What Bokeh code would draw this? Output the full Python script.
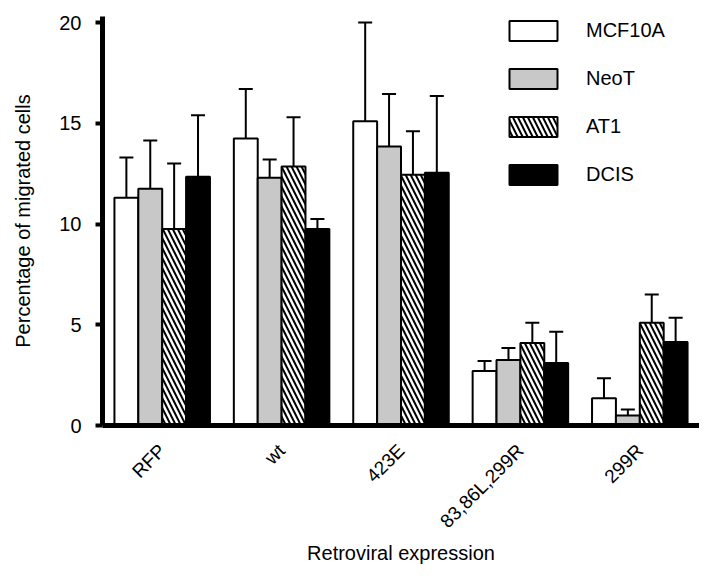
from math import pi

from bokeh.plotting import figure
from bokeh.models import (ColumnDataSource, FactorRange, Range1d, Legend, LegendItem,
                          FixedTicker)
from bokeh.transform import dodge
from bokeh.embed import file_html
from bokeh.resources import INLINE

# ---- data ----
categories = ["RFP", "wt", "423E", "83,86L,299R", "299R"]
series = ["MCF10A", "NeoT", "AT1", "DCIS"]

mcf10a = [11.3, 14.25, 15.1, 2.7, 1.35]
mcf10a_err = [2.0, 2.45, 4.9, 0.5, 1.0]
neot = [11.75, 12.3, 13.85, 3.25, 0.5]
neot_err = [2.4, 0.9, 2.6, 0.6, 0.3]
at1 = [9.75, 12.85, 12.45, 4.1, 5.1]
at1_err = [3.25, 2.45, 2.15, 1.0, 1.4]
dcis = [12.35, 9.75, 12.55, 3.1, 4.15]
dcis_err = [3.05, 0.5, 3.8, 1.55, 1.2]

y_ticks = [0, 5, 10, 15, 20]

values = [mcf10a, neot, at1, dcis]
errors = [mcf10a_err, neot_err, at1_err, dcis_err]

# ---- styles ----
offsets = [-0.3, -0.1, 0.1, 0.3]
fills = ["white", "#c8c8c8", "white", "black"]
hatches = [None, None, "left_diagonal_line", None]
FONT = "Liberation Sans"

p = figure(
    x_range=FactorRange(factors=categories, range_padding=0),
    y_range=Range1d(0, 20.3),
    width=699, height=567,
    min_border_left=102, min_border_right=0, min_border_top=16, min_border_bottom=142,
    output_backend="svg", toolbar_location=None,
)
p.xgrid.visible = False
p.ygrid.visible = False
p.outline_line_color = None
p.background_fill_color = "white"

items = []
for name, vals, errs, off, fc, hp in zip(series, values, errors, offsets, fills, hatches):
    src = ColumnDataSource(dict(
        cat=categories, val=vals, up=[v + e for v, e in zip(vals, errs)]))
    xs = dodge("cat", off, range=p.x_range)
    # error bars (upper only)
    p.segment(x0=xs, y0="val", x1=xs, y1="up", source=src,
              line_color="black", line_width=2)
    p.scatter(x=xs, y="up", source=src, marker="dash", size=14,
              line_color="black", line_width=2)
    kw = {}
    if hp:
        kw = dict(hatch_pattern=hp, hatch_color="black", hatch_weight=2, hatch_scale=10)
    r = p.vbar(x=xs, top="val", width=0.2, bottom=0, source=src,
               fill_color=fc, line_color="black", line_width=2, **kw)
    items.append(LegendItem(label=name, renderers=[r]))

legend = Legend(
    items=items, location=(401, 238),
    glyph_width=60, glyph_height=25, label_height=25,
    label_standoff=23, spacing=23, padding=0, margin=0,
    border_line_color=None, background_fill_alpha=0,
    label_text_font=FONT, label_text_font_size="20px", label_text_color="black",
)
p.add_layout(legend)

# y axis
ya = p.yaxis[0]
ya.ticker = FixedTicker(ticks=y_ticks, minor_ticks=[])
ya.axis_line_width = 5
ya.major_tick_line_width = 4
ya.major_tick_out = 7
ya.major_tick_in = 0
ya.minor_tick_out = 0
ya.minor_tick_in = 0
ya.major_label_standoff = 14
ya.major_label_text_font = FONT
ya.major_label_text_font_size = "20px"
ya.major_label_text_color = "black"
ya.axis_label = "Percentage of migrated cells"
ya.axis_label_text_font = FONT
ya.axis_label_text_font_size = "20px"
ya.axis_label_text_font_style = "normal"
ya.axis_label_text_color = "black"
ya.axis_label_standoff = 22

# x axis
xa = p.xaxis[0]
xa.axis_line_width = 5
xa.major_tick_out = 0
xa.major_tick_in = 0
xa.major_label_orientation = pi / 4
xa.major_label_standoff = 22
xa.major_label_text_font = FONT
xa.major_label_text_font_size = "19px"
xa.major_label_text_color = "black"
xa.axis_label = "Retroviral expression"
xa.axis_label_text_font = FONT
xa.axis_label_text_font_size = "20px"
xa.axis_label_text_font_style = "normal"
xa.axis_label_text_color = "black"
xa.axis_label_standoff = 0

open("out.html", "w").write(file_html(p, INLINE))
